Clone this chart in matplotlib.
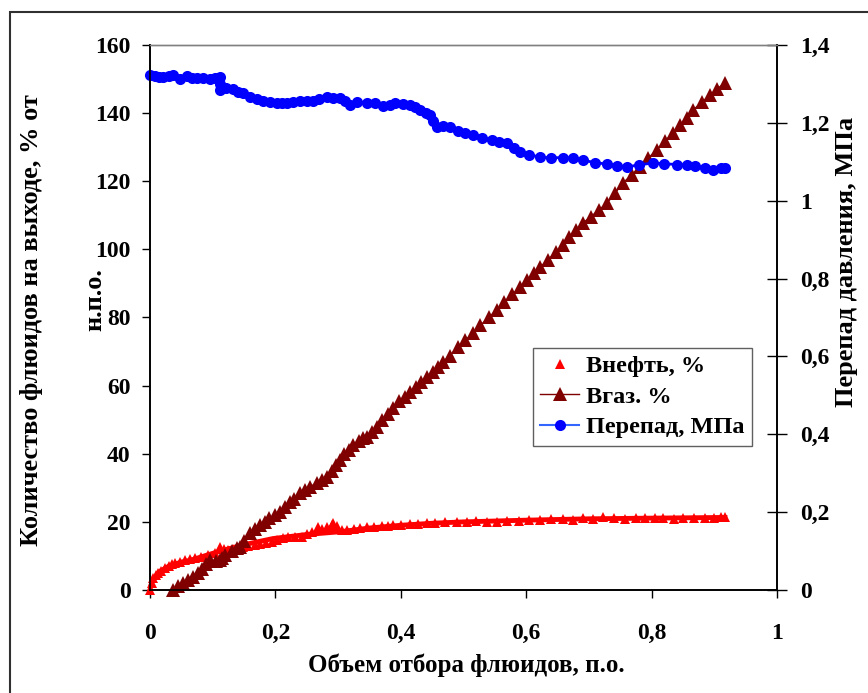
import numpy as np
import matplotlib.pyplot as plt
from matplotlib.lines import Line2D
from matplotlib.patches import Rectangle
from matplotlib.ticker import FuncFormatter

plt.rcParams['font.family'] = ['Liberation Serif', 'DejaVu Serif']
plt.rcParams['font.weight'] = 'bold'

# Вгаз, %  (left axis)
gas_x = [0.037, 0.045, 0.052, 0.06, 0.069, 0.076, 0.083, 0.09, 0.096, 0.105,
         0.112, 0.115, 0.12, 0.13, 0.138, 0.144, 0.15, 0.159, 0.167, 0.175,
         0.183, 0.19, 0.2, 0.207, 0.215, 0.223, 0.23, 0.239, 0.247, 0.255,
         0.266, 0.274, 0.282, 0.29, 0.296, 0.303, 0.31, 0.317, 0.324, 0.333,
         0.34, 0.346, 0.354, 0.362, 0.37, 0.379, 0.388, 0.397, 0.406, 0.415,
         0.424, 0.433, 0.442, 0.451, 0.459, 0.467, 0.478, 0.491, 0.503, 0.515,
         0.527, 0.54, 0.553, 0.565, 0.578, 0.59, 0.601, 0.612, 0.622, 0.634,
         0.647, 0.659, 0.669, 0.68, 0.69, 0.703, 0.716, 0.729, 0.742, 0.754,
         0.768, 0.781, 0.794, 0.808, 0.821, 0.834, 0.845, 0.856, 0.866, 0.88,
         0.893, 0.905, 0.917]
gas_y = [0, 1.2, 2.0, 2.8, 3.8, 5.0, 6.2, 7.5, 8.8, 8.5,
         8.8, 9.5, 10.2, 11.5, 12.3, 12.6, 14.5, 16.7, 17.8, 19.0,
         20.0, 21.0, 22.0, 23.0, 24.5, 25.8, 26.8, 28.5, 29.5, 30.3,
         31.4, 32.2, 33.2, 35.0, 36.6, 38.2, 39.8, 41.2, 42.6, 43.8,
         44.6, 45.0, 46.5, 47.9, 50.0, 51.8, 53.4, 55.5, 56.8, 58.1,
         59.5, 61.0, 62.5, 64.0, 65.5, 66.9, 68.8, 71.3, 73.3, 75.4,
         77.7, 80.0, 82.2, 84.5, 86.8, 89.0, 91.0, 93.0, 94.8, 96.8,
         99.2, 101.3, 103.5, 105.6, 107.7, 109.6, 111.6, 113.6, 116.5, 119.5,
         121.8, 124.2, 126.7, 129.2, 131.7, 134.2, 136.5, 138.7, 140.9, 143.2,
         145.3, 147.2, 148.9]

# Внефть, %  (left axis, markers)
oil_x = [0, 0.003, 0.005, 0.009, 0.013, 0.018, 0.024, 0.03, 0.035, 0.04,
         0.048, 0.056, 0.064, 0.072, 0.082, 0.093, 0.103, 0.112, 0.118, 0.124,
         0.132, 0.14, 0.148, 0.157, 0.167, 0.176, 0.185, 0.194, 0.203, 0.212,
         0.22, 0.231, 0.242, 0.25, 0.258, 0.268, 0.275, 0.282, 0.29, 0.292,
         0.298, 0.306, 0.314, 0.325, 0.335, 0.346, 0.358, 0.37, 0.38, 0.388,
         0.4, 0.415, 0.428, 0.442, 0.455, 0.47, 0.49, 0.505, 0.52, 0.537,
         0.553, 0.57, 0.588, 0.605, 0.622, 0.64, 0.659, 0.675, 0.69, 0.706,
         0.722, 0.74, 0.758, 0.775, 0.79, 0.805, 0.818, 0.835, 0.85, 0.868,
         0.885, 0.9, 0.91, 0.917]
oil_y = [0, 2.0, 3.5, 4.3, 5.0, 5.7, 6.4, 7.0, 7.5, 7.8,
         8.3, 8.8, 9.0, 9.3, 9.8, 10.3, 11.0, 12.7, 12.0, 11.7,
         12.0, 12.3, 12.5, 12.9, 13.2, 13.5, 13.9, 14.2, 14.7, 15.2,
         15.6, 15.5, 15.6, 16.3, 17.0, 18.5, 18.0, 18.6, 19.0, 19.7,
         18.8, 17.6, 17.6, 17.8, 18.2, 18.5, 18.5, 18.8, 18.9, 19.0,
         19.2, 19.3, 19.5, 19.7, 19.8, 19.9, 20.0, 20.0, 20.2, 20.1,
         20.0, 20.3, 20.4, 20.5, 20.5, 20.7, 20.8, 20.6, 21.0, 20.9,
         21.4, 21.0, 20.9, 21.2, 21.0, 21.2, 21.1, 20.9, 21.1, 21.2,
         21.0, 21.1, 21.4, 21.4]

# red smooth line along Внефть
oil_line_x = [0, 0.003, 0.016, 0.03, 0.05, 0.064, 0.09, 0.117, 0.15, 0.196,
              0.25, 0.303, 0.35, 0.4, 0.45, 0.5, 0.6, 0.7, 0.8, 0.917]
oil_line_y = [0, 2.6, 5.5, 7.0, 8.2, 8.7, 10.2, 11.7, 13.3, 15.1,
              16.3, 17.1, 18.2, 19.0, 19.6, 20.0, 20.5, 20.9, 21.1, 21.3]

# Перепад, МПа  (right axis)
dp_x = [0, 0.008, 0.015, 0.021, 0.03, 0.037, 0.048, 0.059, 0.067, 0.075,
        0.085, 0.096, 0.104, 0.11, 0.112, 0.112, 0.112, 0.122, 0.133, 0.141,
        0.149, 0.159, 0.17, 0.181, 0.192, 0.202, 0.21, 0.218, 0.228, 0.239,
        0.25, 0.26, 0.27, 0.282, 0.292, 0.303, 0.311, 0.319, 0.33, 0.346,
        0.359, 0.372, 0.382, 0.391, 0.403, 0.415, 0.423, 0.431, 0.44, 0.447,
        0.452, 0.457, 0.468, 0.478, 0.491, 0.503, 0.515, 0.53, 0.545, 0.557,
        0.569, 0.58, 0.59, 0.605, 0.622, 0.64, 0.658, 0.675, 0.69, 0.71,
        0.729, 0.745, 0.761, 0.78, 0.802, 0.82, 0.84, 0.856, 0.87, 0.885,
        0.898, 0.91, 0.917]
dp_y = [1.323, 1.321, 1.318, 1.317, 1.320, 1.322, 1.313, 1.320, 1.316, 1.314,
        1.315, 1.312, 1.314, 1.316, 1.319, 1.300, 1.284, 1.290, 1.287, 1.280,
        1.277, 1.266, 1.260, 1.256, 1.253, 1.252, 1.251, 1.250, 1.254, 1.256,
        1.255, 1.257, 1.262, 1.266, 1.265, 1.263, 1.255, 1.246, 1.254, 1.250,
        1.250, 1.244, 1.247, 1.250, 1.248, 1.246, 1.240, 1.233, 1.226, 1.220,
        1.205, 1.190, 1.192, 1.190, 1.180, 1.175, 1.169, 1.162, 1.155, 1.152,
        1.148, 1.135, 1.125, 1.118, 1.112, 1.110, 1.111, 1.110, 1.104, 1.098,
        1.094, 1.090, 1.087, 1.092, 1.097, 1.095, 1.093, 1.092, 1.088, 1.083,
        1.079, 1.083, 1.084]

fig = plt.figure(figsize=(8.68, 6.93), dpi=100)
ax = fig.add_axes([150/868, 1 - 590/693, 627/868, 545/693])
ax2 = ax.twinx()

ax.plot(oil_line_x, oil_line_y, '-', color='#ff0000', lw=3.5, clip_on=False, zorder=2)
ax.plot(oil_x, oil_y, '^', color='#ff0000', ms=7, mew=0, clip_on=False, zorder=3)
ax.plot(gas_x, gas_y, '-^', color='#800000', lw=1, ms=10, mew=0, clip_on=False, zorder=4)
ax2.plot(dp_x, dp_y, '-o', color='#0000ff', lw=2, ms=8, mew=0, clip_on=False)

ax.set_xlim(0, 1)
ax.set_ylim(0, 160)
ax2.set_ylim(0, 1.4)
ax.set_xticks(np.arange(0, 1.01, 0.2))
ax.set_yticks(np.arange(0, 161, 20))
ax2.set_yticks(np.arange(0, 1.41, 0.2))

comma = FuncFormatter(lambda v, p: ('%g' % round(v, 2)).replace('.', ','))
ax.xaxis.set_major_formatter(comma)
ax2.yaxis.set_major_formatter(comma)

ax.tick_params(axis='y', direction='out', length=6, width=1, labelsize=17, pad=8)
ax.tick_params(axis='x', direction='out', length=6, width=1, labelsize=17, pad=18)
ax2.tick_params(axis='y', direction='inout', length=14, width=1, labelsize=17, pad=10)

for a in (ax, ax2):
    a.spines['top'].set_color('#808080')
    a.spines['top'].set_linewidth(1)
    for s in ('left', 'right', 'bottom'):
        a.spines[s].set_color('black')
        a.spines[s].set_linewidth(1.2)
    a.patch.set_visible(False)

fig.text(466/868, 1 - 665/693, 'Объем отбора флюидов, п.о.', ha='center', va='center',
         fontsize=18, fontweight='bold')
fig.text(32/868, 1 - 320/693, 'Количество флюидов на выходе, % от', ha='center', va='center',
         rotation=90, fontsize=19, fontweight='bold')
fig.text(95/868, 1 - 300/693, 'н.п.о.', ha='center', va='center',
         rotation=90, fontsize=19, fontweight='bold')
fig.text(847/868, 1 - 262/693, 'Перепад давления, МПа', ha='center', va='center',
         rotation=90, fontsize=19, fontweight='bold')

handles = [
    Line2D([], [], ls='none', marker='^', color='#ff0000', ms=7, mew=0),
    Line2D([], [], ls='-', marker='^', color='#800000', lw=1, ms=10, mew=0),
    Line2D([], [], ls='-', marker='o', color='#3366ff', mfc='#0000ff', lw=1.5, ms=8, mew=0),
]
leg = ax2.legend(handles, ['Внефть, %', 'Вгаз. %', 'Перепад, МПа'],
                 loc='upper left', bbox_to_anchor=((533 - 150) / 627, (590 - 348) / 545),
                 frameon=True, fancybox=False, framealpha=1, edgecolor='#606060',
                 prop={'size': 17.5, 'weight': 'bold'}, handlelength=1.6,
                 borderpad=0.3, labelspacing=0.35, handletextpad=0.3, borderaxespad=0)
leg.get_frame().set_linewidth(1)

fig.patches.append(Rectangle((10/868, -0.1), 1.2, 1.1 - 12/693, transform=fig.transFigure,
                             fill=False, edgecolor='#303030', lw=1.5))

fig.savefig('out.png', dpi=100)
